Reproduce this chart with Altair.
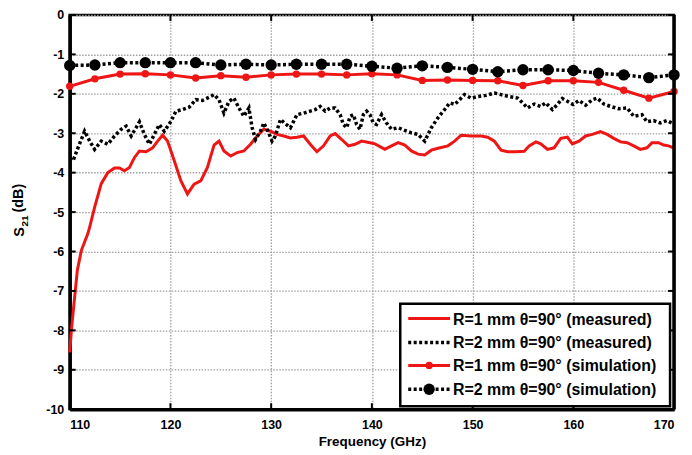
import altair as alt
import pandas as pd

# ---- data ----
r1_meas_f = [110.0, 110.17, 110.49, 110.76, 111.16, 111.81, 111.98, 112.47, 113.13, 113.78, 114.45, 114.94,
             115.43, 115.93, 116.42, 116.92, 117.58, 118.23, 118.73, 119.22, 119.71, 120.38, 121.04, 121.69,
             122.35, 123.01, 123.67, 124.33, 124.82, 125.31, 125.98, 126.63, 127.29, 127.95, 128.61, 129.27,
             129.93, 130.58, 131.25, 131.91, 132.56, 133.22, 133.88, 134.54, 135.20, 135.86, 136.35, 137.01,
             137.67, 138.33, 138.98, 139.81, 140.31, 141.29, 141.95, 142.61, 143.27, 143.92, 144.58, 145.25,
             145.90, 146.56, 147.55, 148.21, 148.86, 149.85, 150.84, 151.50, 152.16, 152.82, 153.48, 154.30,
             155.13, 155.62, 156.28, 156.77, 157.43, 158.09, 158.75, 159.41, 159.90, 160.56, 161.22, 161.88,
             162.70, 163.36, 164.02, 164.68, 165.34, 166.00, 166.65, 167.31, 167.81, 168.47, 168.96, 169.46, 170.0]
r1_meas_s = [-8.56, -7.98, -7.15, -6.47, -5.97, -5.54, -5.38, -4.88, -4.28, -4.00, -3.88, -3.88,
             -3.95, -3.87, -3.62, -3.45, -3.47, -3.37, -3.20, -3.05, -3.20, -3.70, -4.21, -4.54,
             -4.29, -4.21, -3.87, -3.30, -3.20, -3.45, -3.58, -3.49, -3.45, -3.28, -3.07, -2.90,
             -2.95, -3.03, -3.07, -3.12, -3.10, -3.07, -3.28, -3.47, -3.32, -3.07, -3.01, -3.16,
             -3.32, -3.28, -3.20, -3.24, -3.27, -3.41, -3.32, -3.24, -3.30, -3.45, -3.53, -3.55,
             -3.43, -3.38, -3.32, -3.20, -3.05, -3.07, -3.07, -3.10, -3.20, -3.43, -3.47, -3.47,
             -3.46, -3.32, -3.22, -3.27, -3.41, -3.37, -3.13, -3.10, -3.27, -3.20, -3.07, -3.03,
             -2.96, -3.03, -3.13, -3.22, -3.24, -3.32, -3.41, -3.37, -3.24, -3.24, -3.30, -3.32, -3.38]

r2_meas_f = [110.0, 110.33, 110.82, 111.48, 111.98, 112.47, 113.13, 113.78, 114.45, 115.11, 115.60, 116.10,
             116.59, 116.92, 117.41, 117.91, 118.40, 118.89, 119.39, 120.05, 120.54, 121.20, 121.86, 122.52,
             123.17, 123.83, 124.33, 124.82, 125.31, 125.81, 126.30, 126.80, 127.29, 127.79, 128.11, 128.45,
             128.94, 129.27, 129.59, 130.09, 130.42, 130.92, 131.41, 131.91, 132.56, 133.22, 133.88, 134.38,
             134.87, 135.37, 135.86, 136.35, 136.85, 137.17, 137.50, 137.84, 138.16, 138.49, 138.82, 139.15,
             139.48, 139.81, 140.14, 140.46, 140.96, 141.45, 141.95, 142.61, 143.27, 143.92, 144.58, 145.25,
             145.90, 146.56, 147.22, 147.72, 148.21, 148.70, 149.20, 149.85, 150.51, 151.33, 152.16, 152.82,
             153.65, 154.47, 154.96, 155.45, 156.12, 156.77, 157.26, 157.92, 158.42, 158.91, 159.41, 159.97,
             160.56, 161.22, 161.88, 162.37, 163.03, 163.69, 164.52, 165.34, 166.00, 166.82, 167.31, 167.97,
             168.62, 169.29, 169.78, 170.0]
r2_meas_s = [-3.64, -3.70, -3.37, -2.95, -3.20, -3.41, -3.20, -3.28, -3.07, -2.90, -2.82, -3.07,
             -2.86, -2.71, -3.03, -3.28, -3.03, -2.78, -2.95, -2.70, -2.44, -2.40, -2.34, -2.15,
             -2.17, -2.09, -2.02, -2.15, -2.49, -2.19, -2.11, -2.36, -2.57, -2.36, -2.86, -3.16,
             -2.95, -2.74, -2.90, -3.20, -3.07, -2.65, -2.76, -2.86, -2.53, -2.49, -2.44, -2.40,
             -2.32, -2.44, -2.36, -2.36, -2.53, -2.78, -2.86, -2.57, -2.53, -2.78, -2.90, -2.53,
             -2.44, -2.53, -2.74, -2.78, -2.53, -2.74, -2.90, -2.86, -2.93, -2.99, -3.03, -3.20,
             -2.86, -2.61, -2.40, -2.23, -2.27, -2.15, -2.02, -2.11, -2.07, -2.04, -1.98, -2.02,
             -2.07, -2.11, -2.23, -2.36, -2.26, -2.32, -2.23, -2.40, -2.27, -2.12, -2.19, -2.27,
             -2.17, -2.29, -2.15, -2.11, -2.26, -2.32, -2.38, -2.36, -2.57, -2.53, -2.71, -2.68,
             -2.74, -2.68, -2.74, -2.75]

sim_f = [110.0, 112.5, 115.0, 117.5, 120.0, 122.5, 125.0, 127.5, 130.0, 132.5, 135.0, 137.5, 140.0,
         142.5, 145.0, 147.5, 150.0, 152.5, 155.0, 157.5, 160.0, 162.5, 165.0, 167.5, 170.0]
r1_sim_s = [-1.81, -1.62, -1.50, -1.49, -1.52, -1.60, -1.54, -1.58, -1.52, -1.50, -1.50, -1.52, -1.49,
            -1.52, -1.66, -1.65, -1.66, -1.67, -1.79, -1.67, -1.67, -1.71, -1.91, -2.11, -1.94]
r2_sim_s = [-1.28, -1.27, -1.21, -1.21, -1.21, -1.21, -1.27, -1.25, -1.27, -1.25, -1.25, -1.25, -1.30,
            -1.35, -1.29, -1.33, -1.38, -1.44, -1.39, -1.39, -1.41, -1.48, -1.52, -1.59, -1.52]

x_ticks = [110, 120, 130, 140, 150, 160, 170]
y_ticks = [0, -1, -2, -3, -4, -5, -6, -7, -8, -9, -10]

legend_labels = ["R=1 mm \u03b8=90\u00b0 (measured)", "R=2 mm \u03b8=90\u00b0 (measured)",
                 "R=1 mm \u03b8=90\u00b0 (simulation)", "R=2 mm \u03b8=90\u00b0 (simulation)"]

RED = "#ee1515"
FONT = "Liberation Sans"
W, H = 607, 396

xs = alt.Scale(domain=[110, 170], nice=False, zero=False)
ys = alt.Scale(domain=[-10, 0], nice=False, zero=False)

df_r1m = pd.DataFrame({"f": r1_meas_f, "s": r1_meas_s})
df_r2m = pd.DataFrame({"f": r2_meas_f, "s": r2_meas_s})
df_r1s = pd.DataFrame({"f": sim_f, "s": r1_sim_s})
df_r2s = pd.DataFrame({"f": sim_f, "s": r2_sim_s})
df_xt = pd.DataFrame({"f": x_ticks})
df_yt = pd.DataFrame({"s": y_ticks})
df_one = pd.DataFrame({"k": [0]})

x_axis = alt.Axis(values=x_ticks, grid=True, gridDash=[1.5, 1.5], gridColor="#a0a0a0", gridWidth=1.3,
                  domainColor="black", domainWidth=3.5, ticks=False, labelFont=FONT, labelFontWeight="bold",
                  labelFontSize=12.5, labelColor="black", labelPadding=9, title="Frequency (GHz)",
                  titleFont=FONT, titleFontWeight="bold", titleFontSize=13.5, titleColor="black",
                  titlePadding=4)
y_axis = alt.Axis(values=y_ticks, grid=True, gridDash=[1.5, 1.5], gridColor="#a0a0a0", gridWidth=1.3,
                  domainColor="black", domainWidth=3.5, ticks=False, labelFont=FONT, labelFontWeight="bold",
                  labelFontSize=12.5, labelColor="black", labelPadding=6, labelExpr="toString(datum.value)",
                  title=None)

X = alt.X("f:Q", scale=xs, axis=x_axis)
Y = alt.Y("s:Q", scale=ys, axis=y_axis)

line_r1m = alt.Chart(df_r1m).mark_line(color=RED, strokeWidth=3).encode(x=X, y=Y)
line_r2m = alt.Chart(df_r2m).mark_line(color="black", strokeWidth=3.5, strokeDash=[3, 2.5]).encode(x=X, y=Y)
line_r1s = alt.Chart(df_r1s).mark_line(color=RED, strokeWidth=3).encode(x=X, y=Y)
pts_r1s = alt.Chart(df_r1s).mark_point(filled=True, color=RED, size=55, opacity=1).encode(x=X, y=Y)
line_r2s = alt.Chart(df_r2s).mark_line(color="black", strokeWidth=3.5, strokeDash=[3, 2.5]).encode(x=X, y=Y)
pts_r2s = alt.Chart(df_r2s).mark_point(filled=True, color="black", size=130, opacity=1).encode(x=X, y=Y)

# inward tick marks on all four sides
tb = alt.Chart(df_xt).mark_rule(color="black", strokeWidth=2).encode(x=X, y=alt.value(H), y2=alt.value(H - 6))
tt = alt.Chart(df_xt).mark_rule(color="black", strokeWidth=2).encode(x=X, y=alt.value(0), y2=alt.value(6))
tl = alt.Chart(df_yt).mark_rule(color="black", strokeWidth=2).encode(y=Y, x=alt.value(0), x2=alt.value(6))
tr = alt.Chart(df_yt).mark_rule(color="black", strokeWidth=2).encode(y=Y, x=alt.value(W), x2=alt.value(W - 6))
right_edge = alt.Chart(df_one).mark_rule(color="black", strokeWidth=3.5).encode(
    x=alt.value(W), y=alt.value(0), y2=alt.value(H))

# y-axis title with a real subscript
yt_S = alt.Chart(df_one).mark_text(text="S", angle=270, align="center", baseline="middle", font=FONT,
                                   fontWeight="bold", fontSize=14.5, color="black").encode(
    x=alt.value(-50), y=alt.value(218))
yt_21 = alt.Chart(df_one).mark_text(text="21", angle=270, align="center", baseline="middle", font=FONT,
                                    fontWeight="bold", fontSize=10, color="black").encode(
    x=alt.value(-45), y=alt.value(207))
yt_dB = alt.Chart(df_one).mark_text(text="(dB)", angle=270, align="center", baseline="middle", font=FONT,
                                    fontWeight="bold", fontSize=14.5, color="black").encode(
    x=alt.value(-51), y=alt.value(184))

# legend box (drawn by hand in pixel space)
LX0, LX1, LY0, LY1 = 332, 603, 290, 393
row_y = [305, 329, 352, 376]
leg_box = alt.Chart(df_one).mark_rect(fill="white", stroke="black", strokeWidth=2.5).encode(
    x=alt.value(LX0), x2=alt.value(LX1), y=alt.value(LY0), y2=alt.value(LY1))

leg_layers = []
styles = [(RED, None, None), ("black", [3, 2.5], None), (RED, None, (RED, 55)), ("black", [3, 2.5], ("black", 130))]
for i, (col, dash, pt) in enumerate(styles):
    kw = dict(color=col, strokeWidth=3.5 if col == "black" else 3)
    if dash:
        kw["strokeDash"] = dash
    leg_layers.append(alt.Chart(df_one).mark_rule(**kw).encode(
        x=alt.value(340), x2=alt.value(382), y=alt.value(row_y[i])))
    if pt:
        leg_layers.append(alt.Chart(df_one).mark_point(filled=True, color=pt[0], size=pt[1], opacity=1).encode(
            x=alt.value(361), y=alt.value(row_y[i])))
    leg_layers.append(alt.Chart(df_one).mark_text(
        text=legend_labels[i], align="left", baseline="middle", font=FONT, fontWeight="bold",
        fontSize=16, color="black").encode(x=alt.value(385), y=alt.value(row_y[i] + 1)))

chart = alt.layer(
    line_r1m, line_r2m, line_r1s, pts_r1s, line_r2s, pts_r2s,
    tb, tt, tl, tr, right_edge, yt_S, yt_21, yt_dB, leg_box, *leg_layers
).properties(
    width=W, height=H,
    autosize=alt.AutoSizeParams(type="none"),
    padding={"left": 62, "top": 6, "right": 10, "bottom": 40},
    background="white",
).configure_view(stroke="black", strokeWidth=2.5)

chart.save("out.html", embed_options={"renderer": "svg", "actions": False})
